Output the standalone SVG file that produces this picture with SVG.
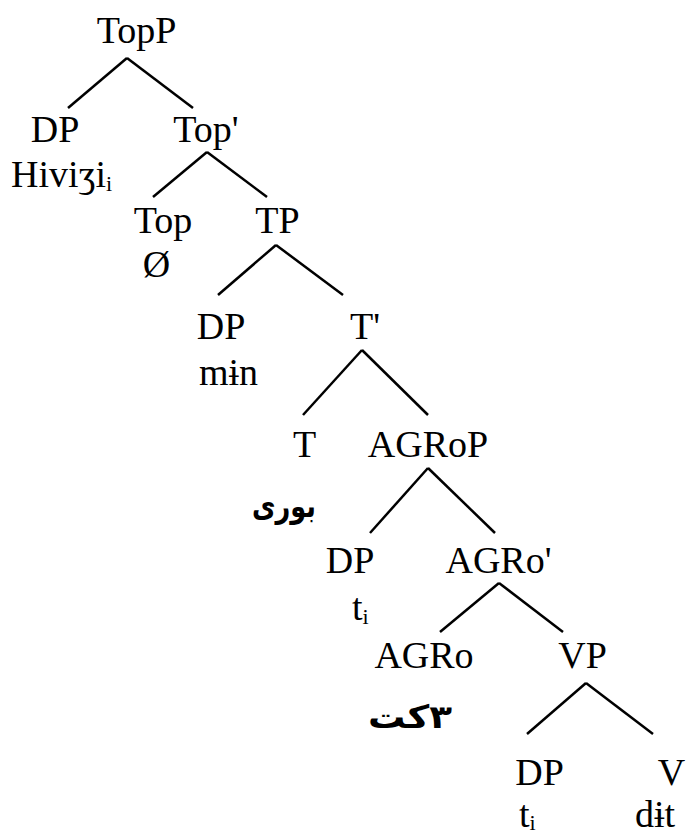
<svg xmlns="http://www.w3.org/2000/svg" width="690" height="834" viewBox="0 0 690 834">
<style>
.t{font-family:"Liberation Serif","DejaVu Serif",serif;font-size:38px;fill:#000;text-anchor:middle}
.s{text-anchor:start}
.sub{font-size:22px}
.ar{font-family:"DejaVu Sans",sans-serif;font-weight:bold;font-size:32px;fill:#000;text-anchor:middle}
.e line{stroke:#000;stroke-width:2.5;stroke-linecap:butt}
</style>
<rect width="690" height="834" fill="#fff"/>
<g id="connectors" class="e">
<line x1="127" y1="58" x2="68" y2="108"/>
<line x1="127" y1="58" x2="193" y2="108"/>
<line x1="207" y1="152" x2="153" y2="197"/>
<line x1="207" y1="152" x2="267" y2="197"/>
<line x1="276" y1="245" x2="218" y2="295"/>
<line x1="276" y1="245" x2="343" y2="295"/>
<line x1="362" y1="350" x2="303" y2="415"/>
<line x1="362" y1="350" x2="428" y2="415"/>
<line x1="428" y1="468" x2="370" y2="533"/>
<line x1="428" y1="468" x2="495" y2="533"/>
<line x1="499" y1="583" x2="440" y2="632"/>
<line x1="499" y1="583" x2="563" y2="632"/>
<line x1="586" y1="683" x2="527" y2="734"/>
<line x1="586" y1="683" x2="653" y2="734"/>
</g>
<g id="n-topp"><text class="t" x="136.5" y="43">TopP</text></g>
<g id="n-dp1"><text class="t" x="55" y="142">DP</text><text class="t s" x="11" y="187">Hiviʒi<tspan class="sub" dy="4">i</tspan></text></g>
<g id="n-topbar"><text class="t" x="206" y="142">Top'</text></g>
<g id="n-top"><text class="t" x="163" y="233">Top</text><text class="t" x="156.5" y="277">Ø</text></g>
<g id="n-tp"><text class="t" x="277.5" y="233">TP</text></g>
<g id="n-dp2"><text class="t" x="221" y="339">DP</text><text class="t" x="228.5" y="385">mɨn</text></g>
<g id="n-tbar"><text class="t" x="365" y="339">T'</text></g>
<g id="n-t"><text class="t" x="304.5" y="457">T</text><text class="ar" x="284" y="517" textLength="64" lengthAdjust="spacingAndGlyphs">بوری</text></g>
<g id="n-agrop"><text class="t" x="428" y="457">AGRoP</text></g>
<g id="n-dp3"><text class="t" x="350" y="573">DP</text><text class="t s" x="352" y="620">t<tspan class="sub" dy="4">i</tspan></text></g>
<g id="n-agrobar"><text class="t" x="498.5" y="573">AGRo'</text></g>
<g id="n-agro"><text class="t" x="424" y="668">AGRo</text><text class="ar" x="410" y="728" textLength="84" lengthAdjust="spacingAndGlyphs">٣کت</text></g>
<g id="n-vp"><text class="t" x="582.5" y="668">VP</text></g>
<g id="n-dp4"><text class="t" x="539.5" y="785">DP</text><text class="t s" x="519" y="827">t<tspan class="sub" dy="3">i</tspan></text></g>
<g id="n-v"><text class="t" x="671.5" y="785">V</text><text class="t" x="655" y="827">dɨt</text></g>
</svg>
